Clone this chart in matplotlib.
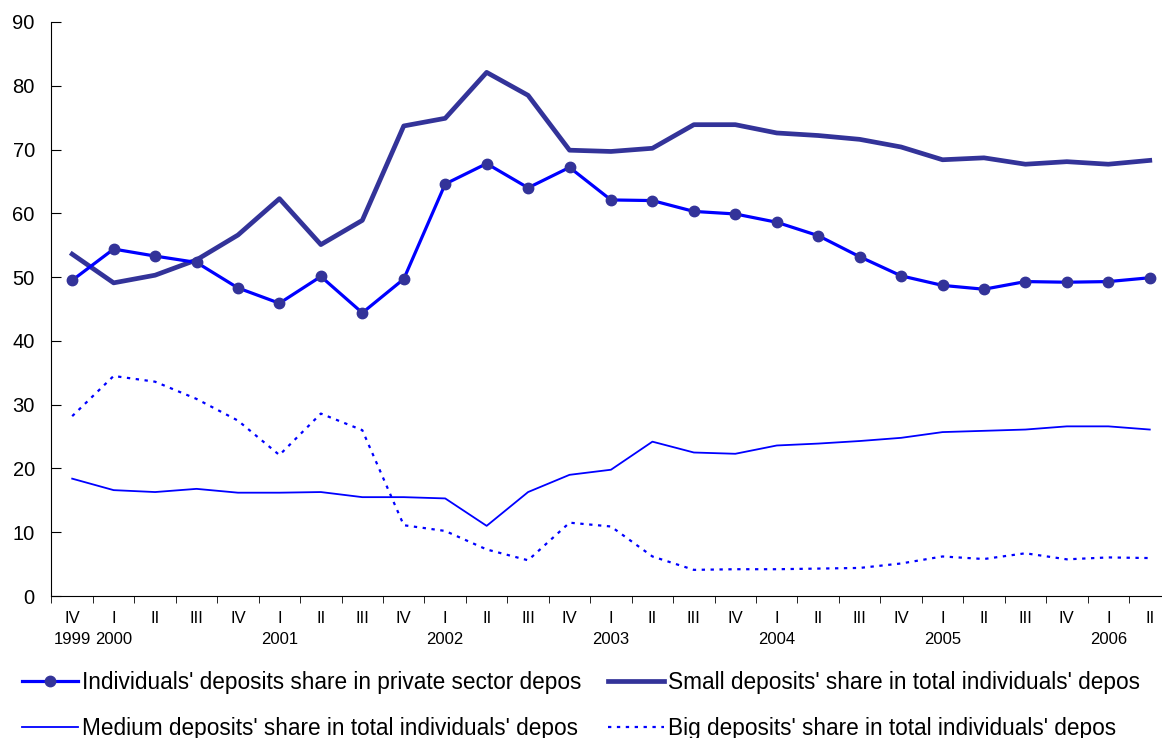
import matplotlib.pyplot as plt
from matplotlib.ticker import FixedLocator, MultipleLocator

plt.rcParams['font.family'] = ['Liberation Sans', 'DejaVu Sans']

quarters = ['IV', 'I', 'II', 'III', 'IV', 'I', 'II', 'III', 'IV', 'I', 'II', 'III', 'IV',
            'I', 'II', 'III', 'IV', 'I', 'II', 'III', 'IV', 'I', 'II', 'III', 'IV', 'I', 'II']
years = {0: '1999', 1: '2000', 5: '2001', 9: '2002', 13: '2003', 17: '2004', 21: '2005', 25: '2006'}

individuals = [49.5, 54.4, 53.3, 52.3, 48.3, 45.9, 50.1, 44.4, 49.7, 64.6, 67.8, 64.0, 67.2, 62.1,
               62.0, 60.3, 59.9, 58.6, 56.5, 53.2, 50.2, 48.7, 48.1, 49.3, 49.2, 49.3, 49.9]
small = [53.6, 49.1, 50.3, 52.7, 56.6, 62.3, 55.1, 58.9, 73.7, 74.9, 82.1, 78.5, 69.9, 69.7,
         70.2, 73.9, 73.9, 72.6, 72.2, 71.6, 70.4, 68.4, 68.7, 67.7, 68.1, 67.7, 68.3]
medium = [18.4, 16.6, 16.3, 16.8, 16.2, 16.2, 16.3, 15.5, 15.5, 15.3, 11.0, 16.3, 19.0, 19.8,
          24.2, 22.5, 22.3, 23.6, 23.9, 24.3, 24.8, 25.7, 25.9, 26.1, 26.6, 26.6, 26.1]
big = [28.2, 34.5, 33.6, 30.9, 27.5, 22.1, 28.6, 26.0, 11.1, 10.2, 7.3, 5.6, 11.5, 10.9,
       6.2, 4.1, 4.2, 4.2, 4.3, 4.4, 5.1, 6.2, 5.8, 6.7, 5.75, 6.05, 5.95]

labels = ["Individuals' deposits share in private sector depos",
          "Small deposits' share in total individuals' depos",
          "Medium deposits' share in total individuals' depos",
          "Big deposits' share in total individuals' depos"]

fig = plt.figure(figsize=(11.62, 7.38), dpi=100)
ax = fig.add_axes([0.0443, 0.1924, 0.963, 0.7778])

x = list(range(len(quarters)))
l1, = ax.plot(x, individuals, color='#0000ff', lw=2.3, marker='o', markersize=7.5,
              markerfacecolor='#333399', markeredgecolor='#333399', zorder=4)
l2, = ax.plot(x, small, color='#333399', lw=3.4, zorder=3)
l3, = ax.plot(x, medium, color='#0000ff', lw=1.3, zorder=3)
l4, = ax.plot(x, big, color='#0000ff', lw=1.6, linestyle=(0, (1.5, 2.5)), zorder=3)

ax.set_xlim(-0.5, len(quarters) - 0.5)
ax.set_ylim(0, 90)
ax.yaxis.set_major_locator(MultipleLocator(10))
ax.tick_params(axis='y', direction='in', length=7, labelsize=14.5, pad=12)
ax.tick_params(axis='x', which='major', length=0, labelsize=12, pad=11)
ax.tick_params(axis='x', which='minor', direction='out', length=5)
ax.set_xticks(x)
ax.set_xticklabels(quarters)
ax.xaxis.set_minor_locator(FixedLocator([i - 0.5 for i in range(len(quarters) + 1)]))

for i, yr in years.items():
    ax.text(i, -0.062, yr, transform=ax.get_xaxis_transform(), ha='center', va='top', fontsize=12)

for side in ['top', 'right']:
    ax.spines[side].set_visible(False)

# legend filled row by row, as in the original
fig.legend([l1, l3, l2, l4], [labels[0], labels[2], labels[1], labels[3]],
           loc='upper left', bbox_to_anchor=(0.019, 0.091),
           ncol=2, frameon=False, fontsize=16.3, handlelength=2.45, handletextpad=0.18,
           columnspacing=1.2, labelspacing=1.02, borderpad=0, borderaxespad=0)

fig.savefig('out.png', dpi=100)
